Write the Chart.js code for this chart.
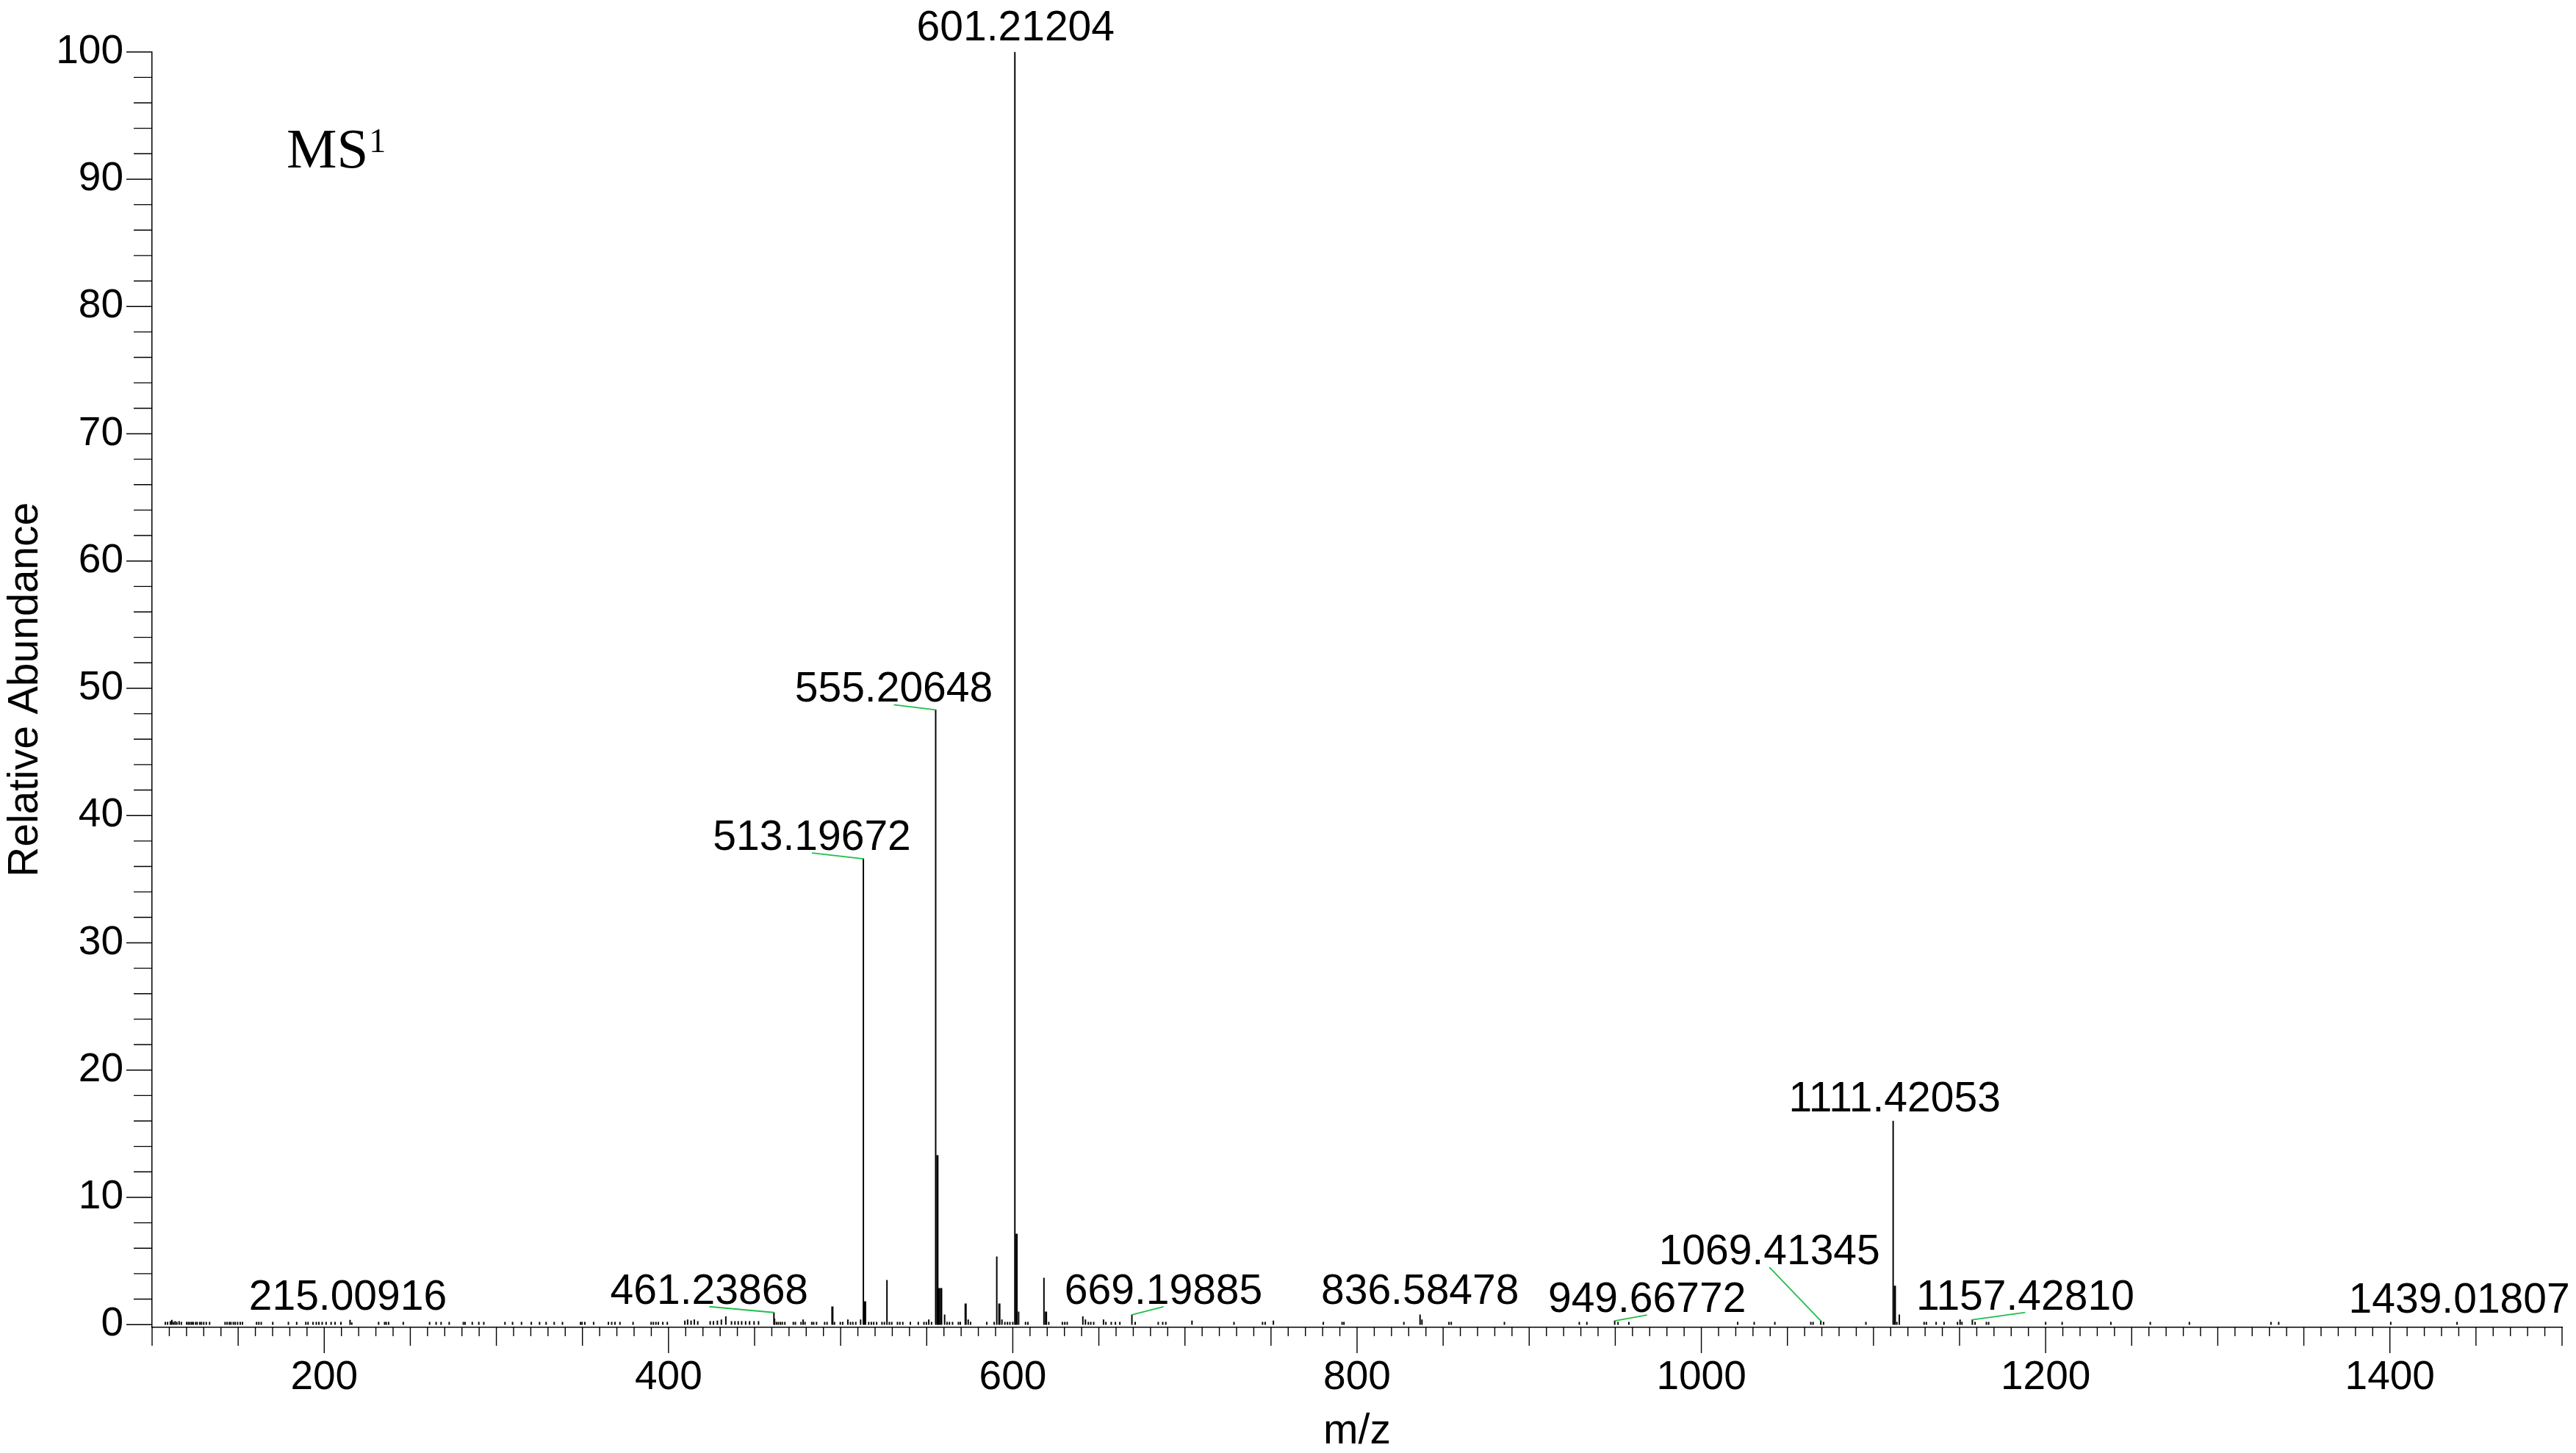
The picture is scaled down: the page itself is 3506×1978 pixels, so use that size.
<!DOCTYPE html>
<html>
<head>
<meta charset="utf-8">
<script src="https://cdn.jsdelivr.net/npm/chart.js@4.4.1/dist/chart.umd.min.js"></script>
<style>
html,body{margin:0;padding:0;background:#fff;}
canvas{display:block;}
</style>
</head>
<body>
<canvas id="c" width="3506" height="1978" style="width:3506px;height:1978px"></canvas>
<script>
// ---------------- DATA ----------------
// annotated peaks
const labeledMz = [215.00916, 461.23868, 513.19672, 555.20648, 601.21204, 669.19885, 836.58478, 949.66772, 1069.41345, 1111.42053, 1157.42810, 1439.01807];
const labeledAbundance = [0.35, 0.95, 36.6, 48.3, 100, 0.77, 0.77, 0.29, 0.29, 16.0, 0.38, 0.2];
const labeledText = ['215.00916', '461.23868', '513.19672', '555.20648', '601.21204', '669.19885', '836.58478', '949.66772', '1069.41345', '1111.42053', '1157.42810', '1439.01807'];

// isotope / neighbour peaks (drawn slightly heavier)
const isotopeMz = [495.2, 514.2, 556.21, 557.2, 558.4, 572.6, 592.2, 602.21, 619.3, 1112.42];
const isotopeAbundance = [1.40, 1.81, 13.3, 2.85, 2.85, 1.63, 1.63, 7.12, 1.0, 3.04];

// remaining minor peaks / noise sticks
const minorMz = [
  107.7, 109.0, 110.6, 111.5, 112.5, 113.4, 114.4, 115.7, 117.0, 120.1, 121.1, 122.0, 123.0, 123.9, 125.3, 126.2,
  127.7, 128.7, 130.0, 131.5, 133.4, 142.4, 143.6, 144.9, 145.8, 147.2, 148.3, 149.7, 151.2, 152.5, 160.7, 162.0,
  163.4, 170.1, 179.2, 184.0, 189.3, 190.6, 193.5, 195.4, 196.9, 198.8, 201.1, 204.0, 206.3, 209.7, 216.0, 231.6,
  235.1, 236.0, 237.4, 245.9, 261.2, 265.0, 267.9, 272.6, 280.8, 281.8, 286.0, 289.8, 292.7, 305.0, 309.4, 314.6,
  320.3, 325.1, 328.9, 333.6, 338.4, 348.9, 349.8, 351.4, 356.5, 365.1, 367.0, 368.9, 371.8, 379.4, 389.9, 391.2,
  392.7, 394.1, 396.7, 399.3, 409.5, 411.1, 413.1, 415.0, 417.0, 424.2, 426.1, 428.4, 430.7, 433.3, 436.6, 438.6,
  440.5, 442.5, 444.8, 447.1, 449.7, 452.3, 461.6, 462.7, 463.8, 465.0, 466.1, 467.6, 472.5, 473.7, 477.0, 478.2,
  479.3, 483.2, 484.3, 486.0, 490.7, 492.1, 496.4, 499.8, 501.2, 504.2, 505.7, 507.1, 508.8, 511.6, 516.3, 517.8,
  519.2, 520.9, 524.0, 525.4, 526.9, 528.3, 529.7, 533.0, 534.4, 536.1, 540.5, 545.1, 548.4, 549.8, 551.2, 552.8,
  560.4, 561.8, 563.2, 565.0, 568.4, 569.5, 574.1, 575.5, 584.9, 589.2, 590.7, 593.7, 595.4, 596.9, 598.3, 600.0,
  603.4, 607.4, 608.8, 618.1, 620.9, 628.8, 630.2, 631.6, 640.7, 642.2, 643.9, 645.3, 647.0, 652.7, 654.1, 657.2,
  659.6, 662.2, 671.1, 684.5, 687.1, 688.9, 704.1, 728.5, 745.1, 746.6, 751.4, 780.4, 791.3, 792.4, 827.2, 837.7,
  853.4, 854.7, 885.6, 929.1, 933.5, 951.6, 957.9, 1021.1, 1030.7, 1042.7, 1063.6, 1064.9, 1071.0, 1095.6, 1113.6, 1115.0,
  1129.4, 1130.7, 1136.4, 1141.0, 1148.8, 1150.3, 1151.4, 1159.0, 1165.6, 1166.9, 1200.0, 1209.6, 1237.9, 1260.8, 1283.5, 1330.9,
  1335.4, 1400.5
];
const minorAbundance = [
  0.2, 0.2, 0.25, 0.35, 0.2, 0.25, 0.2, 0.25, 0.2, 0.2, 0.2, 0.2, 0.2, 0.2, 0.2, 0.2,
  0.2, 0.2, 0.2, 0.2, 0.2, 0.2, 0.2, 0.2, 0.2, 0.2, 0.2, 0.2, 0.2, 0.2, 0.2, 0.2,
  0.2, 0.2, 0.2, 0.2, 0.2, 0.2, 0.2, 0.2, 0.2, 0.2, 0.2, 0.2, 0.2, 0.2, 0.15, 0.2,
  0.2, 0.2, 0.2, 0.2, 0.2, 0.2, 0.2, 0.2, 0.2, 0.2, 0.2, 0.2, 0.2, 0.2, 0.2, 0.2,
  0.2, 0.2, 0.2, 0.2, 0.2, 0.2, 0.2, 0.2, 0.2, 0.2, 0.2, 0.2, 0.2, 0.2, 0.2, 0.2,
  0.2, 0.2, 0.2, 0.2, 0.3, 0.38, 0.3, 0.38, 0.25, 0.25, 0.25, 0.3, 0.38, 0.62, 0.25, 0.25,
  0.25, 0.25, 0.25, 0.25, 0.25, 0.25, 0.45, 0.2, 0.2, 0.2, 0.2, 0.2, 0.2, 0.2, 0.2, 0.38,
  0.2, 0.2, 0.2, 0.2, 0.2, 0.2, 0.2, 0.2, 0.2, 0.38, 0.2, 0.2, 0.2, 0.38, 0.2, 0.2,
  0.2, 0.2, 0.2, 0.2, 3.48, 0.2, 0.2, 0.2, 0.2, 0.2, 0.2, 0.2, 0.2, 0.2, 0.38, 0.2,
  0.77, 0.2, 0.2, 0.2, 0.2, 0.2, 0.38, 0.2, 0.2, 0.2, 5.33, 0.38, 0.2, 0.2, 0.2, 0.2,
  1.0, 0.2, 0.2, 3.65, 0.2, 0.2, 0.2, 0.2, 0.62, 0.38, 0.2, 0.2, 0.2, 0.38, 0.2, 0.2,
  0.2, 0.2, 0.2, 0.2, 0.2, 0.2, 0.29, 0.2, 0.2, 0.2, 0.29, 0.2, 0.2, 0.2, 0.2, 0.38,
  0.2, 0.2, 0.2, 0.2, 0.2, 0.2, 0.2, 0.2, 0.2, 0.2, 0.2, 0.2, 0.2, 0.2, 0.2, 0.77, 0.2,
  0.2, 0.2, 0.2, 0.2, 0.38, 0.2, 0.2, 0.2, 0.2, 0.2, 0.2, 0.2, 0.2, 0.2, 0.2, 0.2,
  0.2, 0.2
];

// axis tick labels
const xTickValues = [200, 400, 600, 800, 1000, 1200, 1400];
const yTickValues = [0, 10, 20, 30, 40, 50, 60, 70, 80, 90, 100];

// ---------------- LAYOUT / STYLE ----------------
// label placement relative to its peak top, in px: [dx, dy above]
const LABEL_OFFSETS = [[-3,14],[-88,12],[-70,12],[-57,11],[1,16],[43,15],[0,15],[44,12],[-70,77],[2,13],[72,14],[3,13]];
const SANS = '"Liberation Sans", Arial, Helvetica, sans-serif';
const SERIF = '"Liberation Serif", "Times New Roman", serif';

const toPoints = (xs, ys) => xs.map((m, i) => ({x: m, y: ys[i]}));

const tickMarks = {
  id: 'tickMarks',
  afterDraw(chart) {
    const {ctx, chartArea: ca, scales: {x, y}} = chart;
    ctx.save();
    ctx.strokeStyle = '#000';
    ctx.lineWidth = 1.4;
    ctx.beginPath();
    for (let v = 100; v <= 1500; v += 10) {
      const px = x.getPixelForValue(v);
      const len = v % 200 === 0 ? 35 : (v % 50 === 0 ? 25 : 12);
      ctx.moveTo(px, ca.bottom);
      ctx.lineTo(px, ca.bottom + len);
    }
    for (let v = 0; v <= 100; v += 2) {
      const py = y.getPixelForValue(v);
      const len = v % 10 === 0 ? 35 : 25;
      ctx.moveTo(ca.left, py);
      ctx.lineTo(ca.left - len, py);
    }
    ctx.stroke();
    ctx.restore();
  }
};

const peakLabels = {
  id: 'peakLabels',
  afterDraw(chart) {
    const ctx = chart.ctx;
    const meta = chart.getDatasetMeta(0);
    ctx.save();
    ctx.font = '57px ' + SANS;
    ctx.textAlign = 'center';
    ctx.textBaseline = 'alphabetic';
    meta.data.forEach((bar, i) => {
      const [dx, dy] = LABEL_OFFSETS[i];
      const lx = bar.x + dx;
      const ly = bar.y - dy;
      if (Math.abs(dx) > 12) {
        ctx.strokeStyle = '#1fbf4a';
        ctx.lineWidth = 1.8;
        ctx.beginPath();
        ctx.moveTo(lx, ly + 4);
        ctx.lineTo(bar.x, bar.y);
        ctx.stroke();
      }
      ctx.fillStyle = '#000';
      ctx.fillText(labeledText[i], lx, ly);
    });
    // MS¹ annotation
    ctx.textAlign = 'left';
    ctx.font = '77px ' + SERIF;
    ctx.fillText('MS', 390, 228);
    const w = ctx.measureText('MS').width;
    ctx.font = '46px ' + SERIF;
    ctx.fillText('1', 390 + w + 1, 207);
    ctx.restore();
  }
};

new Chart(document.getElementById('c'), {
  type: 'bar',
  data: {
    datasets: [
      {data: toPoints(labeledMz, labeledAbundance), barThickness: 1.3, backgroundColor: '#000'},
      {data: toPoints(isotopeMz, isotopeAbundance), barThickness: 2.3, backgroundColor: '#000'},
      {data: toPoints(minorMz, minorAbundance), barThickness: 1.3, backgroundColor: '#000'}
    ]
  },
  options: {
    responsive: false,
    animation: false,
    devicePixelRatio: 1,
    layout: {padding: {top: 70.7, right: 19, left: 0, bottom: 0}},
    plugins: {legend: {display: false}, tooltip: {enabled: false}},
    datasets: {bar: {grouped: false, borderWidth: 0}},
    scales: {
      x: {
        type: 'linear', min: 100, max: 1500, offset: false,
        grid: {display: false, drawTicks: false, tickLength: 0},
        border: {display: true, color: '#000', width: 1.5},
        afterBuildTicks: s => { s.ticks = xTickValues.map(v => ({value: v})); },
        afterFit: s => { s.height = 171; },
        ticks: {
          color: '#000', padding: 41, maxRotation: 0, autoSkip: false,
          font: {family: SANS, size: 55, lineHeight: 1},
          callback: v => String(v)
        },
        title: {display: true, text: 'm/z', color: '#000', font: {family: SANS, size: 57, lineHeight: 1}, padding: {top: 0, bottom: 0}}
      },
      y: {
        min: -0.22, max: 100,
        grid: {display: false, drawTicks: false, tickLength: 0},
        border: {display: true, color: '#000', width: 1.5},
        afterBuildTicks: s => { s.ticks = yTickValues.map(v => ({value: v})); },
        afterFit: s => { s.width = 207; },
        ticks: {
          color: '#000', padding: 39, autoSkip: false,
          font: {family: SANS, size: 55, lineHeight: 1},
          callback: v => String(v)
        },
        title: {display: true, text: 'Relative Abundance', color: '#000', font: {family: SANS, size: 57, lineHeight: 1}, padding: {top: 7, bottom: 0}}
      }
    }
  },
  plugins: [tickMarks, peakLabels]
});
</script>
</body>
</html>
